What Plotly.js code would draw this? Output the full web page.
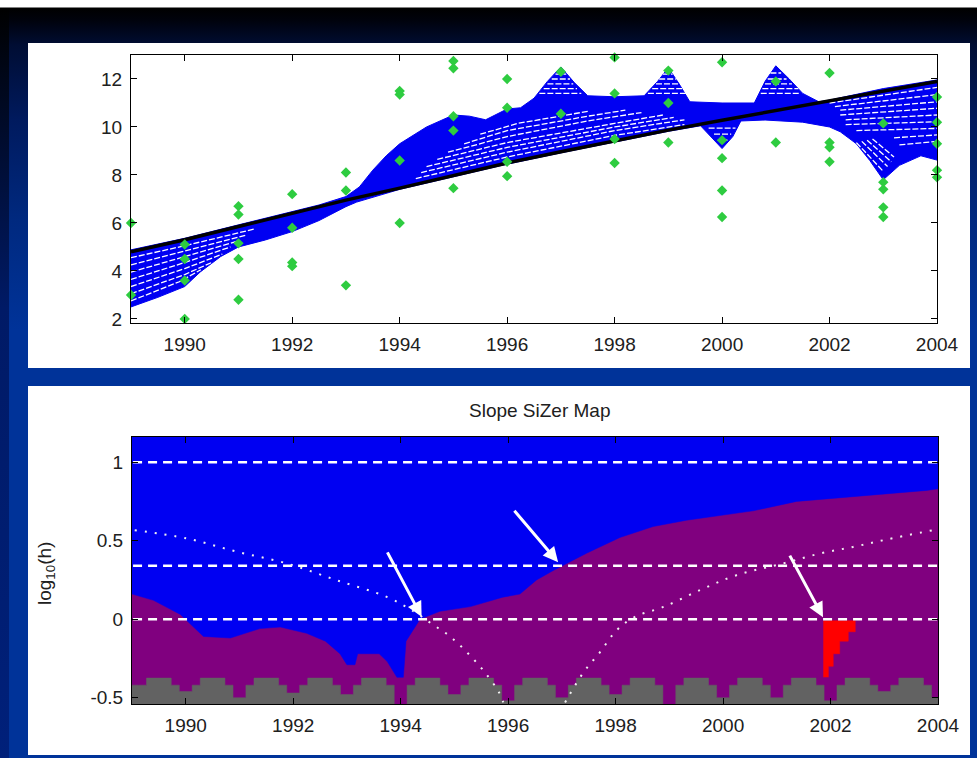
<!DOCTYPE html>
<html><head><meta charset="utf-8">
<script src="https://cdn.plot.ly/plotly-3.0.1.min.js"></script>
<style>
html,body{margin:0;padding:0;width:977px;height:758px;overflow:hidden;}
body{background:linear-gradient(to bottom,#ffffff 0px,#ffffff 7px,#000000 8px,#00020c 20px,#000d33 45px,#001a5e 120px,#00297f 220px,#003399 330px,#003399 758px);}
#strip{position:absolute;left:0;top:8px;width:9px;height:750px;background:linear-gradient(to bottom,#000000 0px,#000616 60px,#001a66 300px,#00207a 750px);}
#chart{position:absolute;left:0;top:0;width:977px;height:758px;}
</style></head>
<body><div id="strip"></div><div id="chart"></div>
<script>
// ---------- top panel: observations ----------
const obsYears = [1989,1989, 1990,1990,1990,1990, 1991,1991,1991,1991,1991, 1992,1992,1992,1992, 1993,1993,1993, 1994,1994,1994,1994, 1995,1995,1995,1995,1995, 1996,1996,1996,1996, 1997,1997, 1998,1998,1998,1998, 1999,1999,1999, 2000,2000,2000,2000,2000, 2001,2001, 2002,2002,2002,2002, 2003,2003,2003,2003,2003, 2004,2004,2004,2004,2004];
const obsValues = [6.0,3.0, 5.1,4.5,3.6,2.0, 6.7,6.35,5.15,4.5,2.8, 7.2,5.8,4.35,4.2, 8.1,7.35,3.4, 11.5,11.35,8.6,6.0, 12.75,12.45,10.45,9.85,7.45, 12.0,10.8,8.55,7.95, 12.3,10.55, 12.9,11.4,9.5,8.5, 12.35,11.0,9.35, 12.7,9.45,8.7,7.35,6.25, 11.9,9.35, 12.25,9.35,9.15,8.55, 10.15,7.7,7.4,6.65,6.25, 11.25,10.2,9.3,8.2,7.9];

// largest-bandwidth smooth (black)
const smoothYears = [1989,1990,1991,1992,1993,1994,1995,1996,1997,1998,1999,2000,2001,2002,2003,2004];
const smoothWide  = [4.8,5.3,5.85,6.4,6.95,7.45,7.97,8.5,8.97,9.43,9.87,10.28,10.68,11.08,11.5,11.9];

// envelope of the family of smooths (blue band)
const bandUpperX = [1989,1990,1991,1992,1992.5,1993,1993.25,1993.5,1993.75,1994,1994.5,1995,1995.3,1995.6,1996,1996.25,1996.5,1996.75,1997,1997.25,1997.5,1998,1998.55,1998.8,1999,1999.2,1999.4,2000,2000.6,2000.8,2001,2001.25,2001.5,2001.8,2002,2003,2004];
const bandUpperY = [4.88,5.36,5.92,6.47,6.75,7.1,7.5,8.2,8.8,9.3,10.0,10.5,10.45,10.3,10.75,10.8,11.2,11.9,12.5,11.85,11.3,11.26,11.3,11.9,12.47,11.8,11.05,11.0,11.0,11.9,12.55,12.0,11.4,11.05,11.12,11.6,11.96];
const bandLowerX = [1989,1989.5,1990,1990.29,1990.67,1991,1991.5,1992,1992.5,1993,1993.2,1994,1995,1996,1997,1998,1999,1999.6,1999.75,2000,2000.2,2000.35,2000.8,2001.5,2002,2002.2,2002.5,2002.75,2003,2003.3,2003.7,2004];
const bandLowerY = [2.5,2.9,3.35,3.96,4.6,5.0,5.29,5.64,6.1,6.68,6.87,7.4,7.92,8.45,8.92,9.38,9.82,10.05,9.7,9.1,9.6,10.25,10.29,10.2,10.0,9.8,9.3,8.6,7.8,8.4,8.8,8.62];

// white gaps between neighbouring smooths (hatching)
const gapX = [
 [1989,1990,1991.3],[1989,1990,1991.15],[1989,1990,1991.0],[1989,1990,1990.85],[1989,1990,1990.7],[1989,1990,1990.5],[1989,1989.9,1990.3],
 [1994.3,1996,1998,1999.3],[1994.4,1996,1998,1999.3],[1994.5,1996,1998,1999.1],[1994.7,1996,1998,1998.9],[1994.9,1996,1997.5,1998.5],[1995.2,1996,1997.5,1998.2],[1995.5,1996.2,1997.5],
 [1996.9,1997.1],[1996.83,1997.17],[1996.75,1997.23],[1996.68,1997.3],[1996.6,1997.38],
 [1998.9,1999.08],[1998.83,1999.15],[1998.77,1999.22],[1998.7,1999.28],[1998.62,1999.35],
 [2000.9,2001.1],[2000.85,2001.2],[2000.8,2001.3],[2000.75,2001.42],[2000.72,2001.45],
 [1999.75,2000.25],[1999.85,2000.17],[1999.92,2000.1],
 [2002.5,2003.0],[2002.6,2003.08],[2002.7,2003.15],[2002.8,2003.2],
 [2002.0,2004],[2002.1,2004],[2002.2,2004],[2002.2,2004],[2002.3,2004],[2002.3,2004],[2002.5,2004],[2003.2,2004],[2003.3,2004]
];
const gapY = [
 [4.55,5.05,5.75],[4.25,4.82,5.5],[3.95,4.6,5.25],[3.65,4.35,5.0],[3.35,4.1,4.7],[3.05,3.85,4.35],[2.75,3.55,4.05],
 [7.85,8.75,9.65,10.1],[8.1,8.95,9.85,10.3],[8.35,9.15,10.0,10.4],[8.65,9.35,10.15,10.5],[8.95,9.6,10.25,10.6],[9.3,9.85,10.45,10.7],[9.7,10.15,10.65],
 [12.2,12.2],[12.0,12.0],[11.8,11.8],[11.6,11.6],[11.4,11.4],
 [12.2,12.2],[12.0,12.0],[11.8,11.8],[11.6,11.6],[11.4,11.4],
 [12.25,12.25],[12.0,12.0],[11.8,11.8],[11.6,11.6],[11.4,11.4],
 [9.95,9.95],[9.7,9.7],[9.45,9.45],
 [9.35,8.15],[9.4,8.35],[9.45,8.55],[9.5,8.75],
 [11.0,11.65],[10.85,11.35],[10.7,11.05],[10.5,10.78],[10.3,10.5],[10.1,10.22],[9.85,9.94],[9.55,9.67],[9.25,9.4]
];

// ---------- bottom panel: SiZer map ----------
const sizerBoundX = [1989,1989.4,1989.9,1990.33,1990.83,1991.38,1991.76,1992.25,1992.6,1992.87,1993.0,1993.15,1993.2,1993.6,1993.75,1993.85,1993.93,1994.05,1994.1,1994.23,1994.36,1994.73,1995.3,1995.9,1996.22,1996.53,1996.84,1997.46,1998.08,1998.7,1999.32,1999.94,2000.56,2001.37,2002.42,2003.04,2003.79,2004];
const sizerBoundY = [0.16,0.12,0.03,-0.11,-0.12,-0.06,-0.05,-0.09,-0.14,-0.22,-0.29,-0.29,-0.22,-0.22,-0.27,-0.33,-0.37,-0.37,-0.14,-0.07,0.0,0.05,0.08,0.14,0.16,0.25,0.31,0.42,0.52,0.59,0.63,0.66,0.69,0.75,0.78,0.80,0.82,0.83];

const grayTopX = [1989.00, 1989.12,1989.27,1989.73,1989.88, 1990.12,1990.27,1990.73,1990.88, 1991.12,1991.27,1991.73,1991.88, 1992.12,1992.27,1992.73,1992.88, 1993.12,1993.27,1993.73,1993.88, 1994.12,1994.27,1994.73,1994.88, 1995.12,1995.27,1995.73,1995.88, 1996.12,1996.27,1996.73,1996.88, 1997.12,1997.27,1997.73,1997.88, 1998.12,1998.27,1998.73,1998.88, 1999.12,1999.27,1999.73,1999.88, 2000.12,2000.27,2000.73,2000.88, 2001.12,2001.27,2001.73,2001.88, 2002.12,2002.27,2002.73,2002.88, 2003.12,2003.27,2003.73,2003.88, 2004.00];
const grayTopY = [-0.42, -0.42,-0.375,-0.42,-0.46, -0.42,-0.375,-0.42,-0.50, -0.42,-0.375,-0.42,-0.47, -0.42,-0.375,-0.42,-0.48, -0.42,-0.375,-0.42,-0.56, -0.42,-0.375,-0.42,-0.48, -0.42,-0.375,-0.42,-0.52, -0.42,-0.375,-0.42,-0.50, -0.42,-0.375,-0.42,-0.48, -0.42,-0.375,-0.42,-0.56, -0.42,-0.375,-0.42,-0.50, -0.42,-0.375,-0.42,-0.50, -0.42,-0.375,-0.42,-0.52, -0.42,-0.375,-0.42,-0.46, -0.42,-0.375,-0.42,-0.50, -0.50];

const redX = [2001.87,2001.87,2002.46,2002.46,2002.33,2002.33,2002.17,2002.17,2002.05,2002.05,2001.96,2001.96];
const redY = [-0.37,-0.01,-0.01,-0.08,-0.08,-0.14,-0.14,-0.22,-0.22,-0.30,-0.30,-0.37];

const hLevels = [1.0, 0.34, 0.0];

const edgeLeftX = [1989.05,1990.02,1990.95,1991.88,1992.81,1993.74,1994.24,1994.58,1994.92,1995.26,1995.57,1995.82,1995.91];
const edgeLeftY = [0.567,0.514,0.43,0.355,0.248,0.142,0.05,-0.03,-0.11,-0.22,-0.34,-0.46,-0.53];
const edgeRightX = [1997.06,1997.4,1997.71,1998.02,1998.36,1998.89,1999.57,2000.25,2001.12,2001.8,2002.42,2003.04,2003.91];
const edgeRightY = [-0.53,-0.34,-0.21,-0.07,0.015,0.078,0.185,0.28,0.355,0.418,0.46,0.507,0.567];

const xTicks = [1990,1992,1994,1996,1998,2000,2002,2004];
const yTicksTop = [2,4,6,8,10,12];
const yTicksBottom = [-0.5,0,0.5,1];
const yTickTextBottom = ['-0.5','0','0.5','1'];

// arrows: tip positions on the map
const arrowTipX = [1994.39, 1996.93, 2001.86];
const arrowTipY = [0.015, 0.363, 0.013];

// ---------- build ----------
const W = 977, H = 758;
const BLUE = '#0000f2', PURPLE = '#80007f', GRAY = '#626262', RED = '#ff0000';

const traces = [];
traces.push({x: bandUpperX.concat(bandLowerX.slice().reverse()), y: bandUpperY.concat(bandLowerY.slice().reverse()),
  xaxis:'x', yaxis:'y', mode:'lines', fill:'toself', fillcolor:BLUE, line:{color:BLUE, width:1}, hoverinfo:'skip'});
let gx = [], gy = [];
gapX.forEach((arr, i) => { gx = gx.concat(arr, [null]); gy = gy.concat(gapY[i], [null]); });
traces.push({x:gx, y:gy, xaxis:'x', yaxis:'y', mode:'lines', connectgaps:false, line:{color:'#ffffff', width:1.3, dash:'6px,2px'}, hoverinfo:'skip'});
traces.push({x:smoothYears, y:smoothWide, xaxis:'x', yaxis:'y', mode:'lines', line:{color:'#000000', width:3.5}});
traces.push({x:obsYears, y:obsValues, xaxis:'x', yaxis:'y', mode:'markers', cliponaxis:false,
  marker:{symbol:'diamond', size:8, color:'#2ecc40', line:{width:0}}});

// map
traces.push({x: sizerBoundX.concat([2004, 1989]), y: sizerBoundY.concat([1.3, 1.3]), xaxis:'x2', yaxis:'y2',
  mode:'lines', fill:'toself', fillcolor:BLUE, line:{color:BLUE, width:0.5}, hoverinfo:'skip'});
traces.push({x: grayTopX.concat([2004, 1989]), y: grayTopY.concat([-0.7, -0.7]), xaxis:'x2', yaxis:'y2',
  mode:'lines', fill:'toself', fillcolor:GRAY, line:{color:GRAY, width:0.5, shape:'hv'}, hoverinfo:'skip'});
traces.push({x: redX, y: redY, xaxis:'x2', yaxis:'y2', mode:'lines', fill:'toself', fillcolor:RED, line:{color:RED, width:0.5}});
hLevels.forEach(L => traces.push({x:[1989.02, 2004], y:[L, L], xaxis:'x2', yaxis:'y2', mode:'lines',
  line:{color:'#ffffff', width:2.5, dash:'9px,6px'}}));
traces.push({x:edgeLeftX, y:edgeLeftY, xaxis:'x2', yaxis:'y2', mode:'lines', line:{color:'#f0f0f0', width:2, dash:'2px,8px', shape:'spline'}});
traces.push({x:edgeRightX, y:edgeRightY, xaxis:'x2', yaxis:'y2', mode:'lines', line:{color:'#f0f0f0', width:2, dash:'2px,8px', shape:'spline'}});

const arrowOff = [[-35,-66],[-45,-53],[-34,-63]];
const annotations = arrowTipX.map((x, i) => ({x:x, y:arrowTipY[i], xref:'x2', yref:'y2', ax:arrowOff[i][0], ay:arrowOff[i][1],
  showarrow:true, arrowhead:2, arrowsize:1, arrowwidth:3, arrowcolor:'#ffffff', text:''}));
annotations.push({text:'Slope SiZer Map', xref:'paper', yref:'paper', x:540/W, y:1-410/H, showarrow:false,
  xanchor:'center', yanchor:'middle', font:{size:19, color:'#202020'}});
annotations.push({text:'log<sub>10</sub>(h)', xref:'paper', yref:'paper', x:46/W, y:1-574/H, showarrow:false, textangle:-90,
  xanchor:'center', yanchor:'middle', font:{size:19, color:'#202020'}});

const axBase = {showgrid:false, zeroline:false, showline:true, linecolor:'#000', linewidth:1, mirror:'ticks',
  ticks:'inside', ticklen:6, tickwidth:1, tickcolor:'#000', ticklabelstandoff:4};

const layout = {
  width:W, height:H, margin:{l:0,r:0,t:0,b:0}, paper_bgcolor:'rgba(0,0,0,0)', plot_bgcolor:'rgba(0,0,0,0)',
  showlegend:false, font:{family:'Liberation Sans, Arial, sans-serif', size:19, color:'#202020'},
  xaxis: Object.assign({}, axBase, {domain:[131/W, 937/W], anchor:'y', range:[1989,2004], tickvals:xTicks}),
  yaxis: Object.assign({}, axBase, {domain:[1-323/H, 1-55/H], anchor:'x', range:[1.83,13.0], tickvals:yTicksTop}),
  xaxis2: Object.assign({}, axBase, {domain:[132/W, 938/W], anchor:'y2', range:[1989,2004], tickvals:xTicks}),
  yaxis2: Object.assign({}, axBase, {domain:[1-704/H, 1-437/H], anchor:'x2', range:[-0.54,1.16], tickvals:yTicksBottom, ticktext:yTickTextBottom}),
  shapes:[
    {type:'rect', xref:'paper', yref:'paper', x0:28/W, x1:970/W, y0:1-368/H, y1:1-43/H, fillcolor:'#ffffff', line:{width:0}, layer:'below'},
    {type:'rect', xref:'paper', yref:'paper', x0:28/W, x1:970/W, y0:1-755/H, y1:1-386/H, fillcolor:'#ffffff', line:{width:0}, layer:'below'},
    {type:'rect', xref:'x2 domain', yref:'y2 domain', x0:0, x1:1, y0:0, y1:1, fillcolor:PURPLE, line:{width:0}, layer:'below'}
  ],
  annotations: annotations
};
Plotly.newPlot('chart', traces, layout, {displayModeBar:false, staticPlot:true});
</script></body></html>
